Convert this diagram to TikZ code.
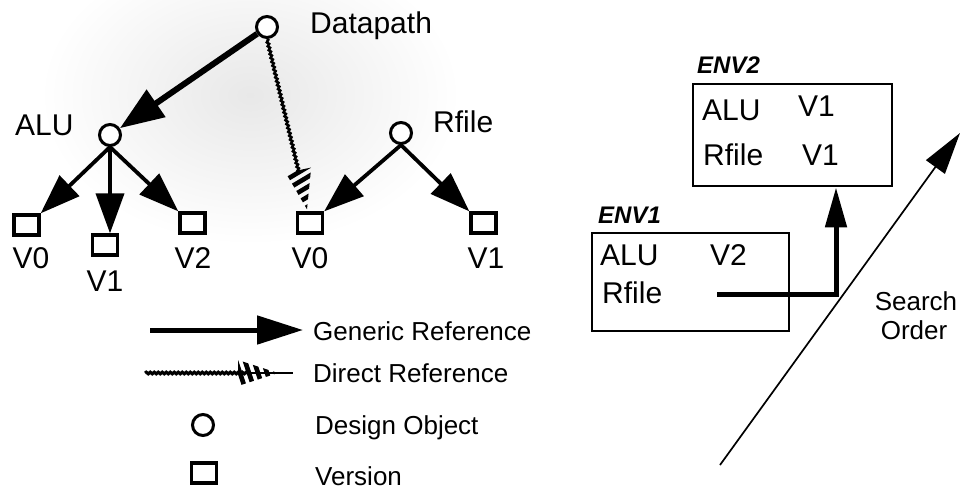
\documentclass[tikz,border=0pt]{standalone}
\usepackage{fontspec}
\setmainfont{Liberation Sans}
\usetikzlibrary{arrows.meta,calc,decorations.pathmorphing}

% striped arrow head for a direct reference: #1 = tip, #2 = direction angle
\newcommand\stripehead[2]{%
  \begin{scope}[shift={(#1)},rotate=#2]
    \begin{scope}
      \clip (0,0) -- (-40,13) -- (-40,-13) -- cycle;
      \foreach \s in {-52,-43,...,2} {\draw[line width=4.6pt] (\s,-15) -- (\s+10,15);}
    \end{scope}
  \end{scope}}

\begin{document}
\begin{tikzpicture}[x=1pt,y=-1pt,
  obj/.style={circle,draw,line width=3pt,minimum size=21pt,inner sep=0pt},
  ver/.style={rectangle,draw,line width=3.3pt,minimum width=25pt,minimum height=20pt,inner sep=0pt},
  lbl/.style={inner sep=0pt,font=\fontsize{30}{36}\selectfont},
  leg/.style={inner sep=0pt,font=\fontsize{26}{31}\selectfont},
  envname/.style={inner sep=0pt,font=\fontsize{24}{29}\selectfont\bfseries\itshape},
  envbox/.style={draw,line width=2.8pt,inner sep=0pt},
  generic/.style={line width=3.8pt,-{Triangle[length=40pt,width=28pt]}},
  bigref/.style={line width=6pt,-{Triangle[length=44pt,width=32pt]}},
  direct/.style={line width=2.6pt,decorate,decoration={snake,amplitude=0.9pt,segment length=4pt}},
  lookup/.style={line width=5pt,miter limit=4,-{Triangle[length=40pt,width=21pt]}},
  order/.style={line width=1.7pt,-{Triangle[length=42pt,width=23pt]}},
]
\useasboundingbox (0,0) rectangle (961,493);

% ---- halftone screen behind the hierarchy
\shade[inner color=black!9,outer color=white] (250,95) ellipse [x radius=210,y radius=150];

% ---- design objects and versions
\node[obj,fill=white] (dp)  at (267,27)  {};
\node[obj,fill=white] (alu) at (110,135) {};
\node[obj,fill=white] (rf)  at (401,133) {};
\node[ver,fill=white] (av0) at (26.5,225) {};
\node[ver,fill=white] (av1) at (105,245)  {};
\node[ver,fill=white] (av2) at (192.5,223) {};
\node[ver,fill=white] (rv0) at (310,223)  {};
\node[ver,fill=white] (rv1) at (483.5,223) {};

\node[lbl,anchor=base west] (tdp)  at (310,33)  {Datapath};
\node[lbl,anchor=base west] (talu) at (15,135)  {ALU};
\node[lbl,anchor=base west] (trf)  at (433,132) {Rfile};
\node[lbl,anchor=base] (tav0) at (31,268)  {V0};
\node[lbl,anchor=base] (tav1) at (105,291) {V1};
\node[lbl,anchor=base] (tav2) at (193,268) {V2};
\node[lbl,anchor=base] (trv0) at (310,268) {V0};
\node[lbl,anchor=base] (trv1) at (486,268) {V1};

% ---- generic references
\draw[bigref]  (dp) -- (alu);
\draw[generic] (alu.south) -- (av0.north east);
\draw[generic] (alu.south) -- (alu.south |- av1.north);
\draw[generic] (alu.south) -- (av2.north west);
\draw[generic] (rf.south) -- (rv0.north east);
\draw[generic] (rf.south) -- (rv1.north west);

% ---- direct reference
\coordinate (dtip)  at ($(rv0.north)+(-3,-2)$);
\coordinate (dbase) at ($(dtip)!38pt!(dp)$);
\draw[direct] (dp.south) -- (dbase);
\stripehead{dtip}{-77.7}

% ---- legend
\coordinate (g1) at (150,330);
\coordinate (g2) at (303,330);
\draw[line width=5pt,-{Triangle[length=46pt,width=28pt]}] (g1) -- (g2);
\node[leg,anchor=base west] (tg) at (313,340) {Generic Reference};

\coordinate (d1) at (145,373);
\coordinate (d2) at (278,373);
\coordinate (d3) at (293,373);
\coordinate (d1b) at ($(d2)+(-30,0)$);
\draw[direct,line width=3pt] (d1) -- (d1b);
\draw[line width=1.8pt] (d1b) -- (d3);
\stripehead{d2}{0}
\node[leg,anchor=base west] (td) at (313,382) {Direct Reference};

\node[obj] (lo) at (203,425) {};
\node[leg,anchor=base west] (to) at (315,434) {Design Object};
\node[ver] (lv) at (204,473) {};
\node[leg,anchor=base west] (tv) at (315,485) {Version};

% ---- environments
\node[envname,anchor=base west] (n2) at (697,73) {ENV2};
\node[envbox,minimum width=199pt,minimum height=102pt] (env2) at (792.5,135) {};
\node[lbl,anchor=base west] (e2a)  at (702,120) {ALU};
\node[lbl,anchor=base west] (e2av) at (798,116) {V1};
\node[lbl,anchor=base west] (e2r)  at (703,165) {Rfile};
\node[lbl,anchor=base west] (e2rv) at (802,165) {V1};

\node[envname,anchor=base west] (n1) at (598,223) {ENV1};
\node[envbox,minimum width=197pt,minimum height=98pt] (env1) at (690.5,282) {};
\node[lbl,anchor=base west] (e1a)  at (600,265) {ALU};
\node[lbl,anchor=base west] (e1av) at (710,265) {V2};
\node[lbl,anchor=base west] (e1r)  at (602,303) {Rfile};

\coordinate (e1link) at (717,294);
\coordinate (turn)   at (836,294);
\draw[lookup] (e1link) -- (turn) -- (turn |- env2.south);

% ---- search order
\coordinate (s1) at (720,465);
\coordinate (s2) at (960,133);
\draw[order] (s1) -- (s2);
\node[leg,anchor=base] (ts) at (916,310) {Search};
\node[leg,anchor=base] (to2) at (914,339) {Order};
\end{tikzpicture}
\end{document}
